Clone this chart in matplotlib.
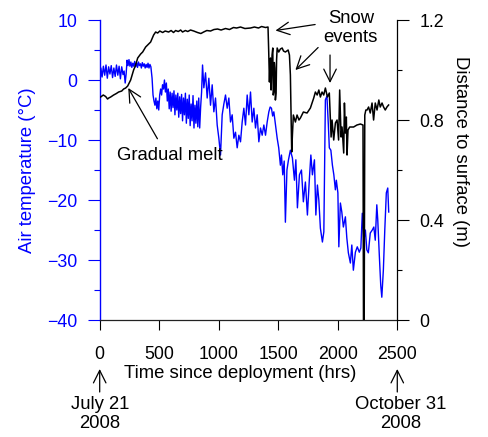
import matplotlib
matplotlib.use("Agg")
import matplotlib.pyplot as plt
from matplotlib.ticker import FixedLocator

plt.rcParams['font.family'] = ['Liberation Sans', 'DejaVu Sans']

# ---------------- data ----------------
# Air temperature (deg C) vs hours since deployment
temp_hours = [3, 10, 20, 31, 42, 53, 64, 75, 86, 97, 108, 119, 130, 141, 152, 163, 174, 185, 196, 205,
              214, 222, 230, 238, 246, 254, 262, 270, 278, 286, 294, 302, 310, 318, 326, 334, 342, 350, 358, 366,
              374, 382, 390, 398, 406, 414, 422, 430, 440, 448, 456, 464, 472, 480, 488, 496, 504, 512, 520, 528,
              536, 544, 552, 560, 568, 576, 584, 592, 600, 608, 616, 624, 632, 640, 648, 656, 664, 672, 680, 688,
              696, 704, 712, 720, 728, 736, 744, 752, 760, 768, 776, 784, 792, 800, 808, 816, 824, 832, 840, 848,
              856, 864, 875, 889, 903, 917, 931,
              945, 959, 973, 987, 1001, 1015, 1029, 1043, 1057, 1071, 1085, 1099, 1113, 1127, 1141, 1155, 1169, 1183, 1197, 1211,
              1225, 1239, 1253, 1267, 1281, 1295, 1309, 1323, 1337, 1351, 1365, 1379, 1393, 1407, 1421, 1432, 1443, 1453, 1463, 1477,
              1491, 1504, 1518, 1527, 1538, 1550, 1560, 1573, 1586, 1602, 1619, 1636, 1648, 1661, 1678, 1695, 1711, 1728, 1745, 1762,
              1774, 1787, 1804, 1816, 1829, 1841, 1854, 1871, 1883, 1896, 1909, 1921, 1929, 1942, 1955, 1967, 1980, 1988, 2001, 2009,
              2022, 2034, 2047, 2064, 2076, 2089, 2106, 2118, 2131, 2148, 2164, 2181, 2194, 2206, 2219, 2232, 2244, 2257, 2273, 2290,
              2303, 2315, 2328, 2336, 2349, 2361, 2370, 2383, 2395, 2408, 2420, 2428]
temp_values = [-0.5, 2.0, 0.5, 2.3, 0.8, 2.5, 0.3, 2.2, 1.0, 2.4, 0.4, 2.0, 0.6, 2.5, 0.8, 2.3, 0.2, 2.2, 0.9, 1.5,
               -0.5, 1.0, 3.3, 2.4, 3.4, 2.3, 3.0, 2.1, 2.8, 2.3, 3.1, 2.2, 2.9, 2.1, 3.0, 2.4, 2.7, 2.0, 2.9, 2.3,
               2.7, 2.0, 2.6, 2.1, 2.8, 2.0, 2.6, 2.2, 0.3, -2.5, -3.5, -4.2, -3.0, -4.8, -3.5, -5.0, -2.5, -1.5, -2.5, -0.8,
               -1.5, 0.0, -2.0, -0.5, -3.5, -1.5, -4.8, -2.0, -5.2, -2.2, -4.6, -1.8, -5.8, -2.5, -5.0, -2.2, -6.2, -2.8, -5.6, -2.4,
               -6.8, -3.0, -5.8, -2.2, -7.2, -3.2, -6.4, -2.5, -7.6, -4.0, -6.8, -2.6, -8.0, -4.2, -7.2, -3.5, -7.8, -3.0, -8.0, -4.5,
               -2.0, 2.5, -1.3, 1.2, -3.0, 0.3, -4.2,
               -0.8, -5.3, -3.0, -7.5, -9.7, -12.5, -5.8, -4.0, -2.5, -4.7, -3.0, -7.0, -5.8, -9.7, -8.7, -11.3, -9.2, -10.3, -7.0, -4.7,
               -7.5, -2.5, -5.8, -2.0, -7.0, -4.7, -8.0, -5.8, -10.3, -8.0, -9.2, -7.5, -9.2, -7.0, -5.3, -4.5, -4.7, -6.0, -5.3, -7.5,
               -9.7, -11.3, -14.2, -12.5, -15.8, -13.5, -23.7, -15.0, -13.3, -11.7, -13.0, -16.7, -13.3, -21.3, -15.8, -15.0, -20.3, -17.0, -22.5, -16.3,
               -12.5, -15.8, -13.3, -22.5, -17.5, -20.0, -24.7, -27.0, -25.3, -3.3, -2.7, -7.5, -11.3, -11.7, -14.2, -15.8, -18.3, -16.7, -18.8, -27.8,
               -20.5, -22.0, -24.5, -22.8, -26.3, -28.8, -30.5, -27.5, -31.7, -28.7, -27.8, -28.7, -28.0, -22.2, -26.7, -25.0, -28.3, -28.8, -25.5, -25.0,
               -24.5, -26.7, -20.8, -23.3, -29.2, -34.2, -36.2, -31.7, -25.0, -18.8, -18.0, -22.0]

# Distance to surface (m) vs hours since deployment
dist_hours = [8, 30, 50, 66, 76, 92, 117, 140, 159, 185, 201, 218, 235, 260, 285, 302, 319, 344, 361, 386,
              411, 428, 453, 470, 487, 505, 529, 550, 579, 600, 620, 638, 660, 680, 696, 720, 740, 763, 790, 822,
              850, 873, 900, 931, 960, 990, 1020, 1057, 1090, 1124, 1150, 1183, 1220, 1267, 1300, 1334, 1360, 1393, 1414, 1420,
              1426, 1431, 1435, 1440, 1443, 1448, 1454, 1458, 1462, 1467, 1471, 1476, 1482, 1486, 1491, 1504, 1518, 1533, 1544, 1560,
              1583, 1594, 1602, 1608, 1613, 1619, 1627, 1644, 1658, 1674, 1686, 1711, 1742, 1770, 1798, 1812, 1827, 1841, 1854, 1868,
              1882, 1896, 1913, 1929, 1944, 1952, 1966, 1980, 1994, 2007, 2016, 2028, 2036, 2050, 2056, 2064, 2072, 2078, 2086, 2100,
              2133, 2161, 2190, 2212, 2216, 2222, 2227, 2236, 2246, 2259, 2273, 2288, 2301, 2315, 2330, 2345, 2357, 2372, 2385, 2399,
              2413, 2427]
dist_values = [0.892, 0.900, 0.894, 0.884, 0.888, 0.892, 0.900, 0.906, 0.912, 0.916, 0.924, 0.928, 0.936, 0.960, 1.000, 1.020, 1.048, 1.064, 1.072, 1.092,
               1.104, 1.112, 1.140, 1.152, 1.148, 1.156, 1.150, 1.156, 1.152, 1.158, 1.150, 1.158, 1.154, 1.160, 1.152, 1.158, 1.154, 1.160, 1.156, 1.150,
               1.146, 1.152, 1.158, 1.156, 1.162, 1.164, 1.160, 1.166, 1.162, 1.170, 1.168, 1.172, 1.166, 1.168, 1.172, 1.168, 1.174, 1.170, 1.172, 1.072,
               0.952, 1.030, 1.048, 0.920, 0.968, 1.060, 1.088, 0.900, 0.912, 1.030, 1.008, 0.880, 0.908, 1.040, 1.088, 1.072, 1.084, 1.088, 1.076, 1.072,
               1.080, 1.060, 0.980, 0.820, 0.672, 0.740, 0.820, 0.792, 0.820, 0.800, 0.808, 0.832, 0.828, 0.848, 0.888, 0.912, 0.900, 0.920, 0.892, 0.912,
               0.900, 0.928, 0.892, 0.908, 0.732, 0.800, 0.720, 0.788, 0.800, 0.720, 0.920, 0.732, 0.772, 0.668, 0.868, 0.748, 0.812, 0.660, 0.760, 0.772,
               0.772, 0.780, 0.784, 0.780, 0.000, 0.000, 0.820, 0.840, 0.840, 0.852, 0.828, 0.868, 0.800, 0.868, 0.840, 0.880, 0.852, 0.868, 0.852, 0.840,
               0.852, 0.860]

x_ticks = [0, 500, 1000, 1500, 2000, 2500]
temp_ticks = [-40, -30, -20, -10, 0, 10]
temp_minor = [-35, -25, -15, -5, 5]
dist_ticks = [0, 0.4, 0.8, 1.2]
dist_tick_labels = ['0', '0.4', '0.8', '1.2']
dist_minor = [0.2, 0.6, 1.0]

FS = 13.3
TFS = 12.8
BLUE = '#0000ff'

fig = plt.figure(figsize=(4.88, 4.37), dpi=100)
ax1 = fig.add_axes([0.2043, 0.2677, 0.6098, 0.6865])
ax2 = ax1.twinx()

ax1.plot(temp_hours, temp_values, color=BLUE, lw=1.0)
ax2.plot(dist_hours, dist_values, color='black', lw=1.1)

ax1.set_xlim(0, 2500)
ax1.set_ylim(-40, 10)
ax2.set_ylim(0, 1.2)

ax1.set_xticks(x_ticks)
ax1.set_yticks(temp_ticks)
ax1.yaxis.set_minor_locator(FixedLocator(temp_minor))
ax2.set_yticks(dist_ticks)
ax2.set_yticklabels(dist_tick_labels)
ax2.yaxis.set_minor_locator(FixedLocator(dist_minor))

for a in (ax1, ax2):
    a.spines['top'].set_visible(False)
ax1.spines['right'].set_visible(False)
ax2.spines['left'].set_visible(False)
ax2.spines['bottom'].set_visible(False)
ax1.spines['left'].set_color(BLUE)
ax1.spines['left'].set_linewidth(1.0)
ax1.spines['bottom'].set_color('#222222')
ax1.spines['bottom'].set_linewidth(0.9)
ax2.spines['right'].set_linewidth(0.9)

ax1.tick_params(axis='x', direction='out', length=7.5, width=0.8, pad=11, labelsize=TFS)
ax1.tick_params(axis='y', which='major', direction='out', length=8.5, width=0.8,
                color=BLUE, labelcolor=BLUE, pad=7.5, labelsize=TFS)
ax1.tick_params(axis='y', which='minor', direction='out', length=4, width=0.8, color=BLUE)
ax2.tick_params(axis='y', which='major', direction='out', length=8.5, width=0.8, pad=7.5, labelsize=TFS)
ax2.tick_params(axis='y', which='minor', direction='out', length=3.5, width=0.8)

ax1.set_xlabel('Time since deployment (hrs)', fontsize=FS, labelpad=2)
ax1.xaxis.label.set_x(0.472)
fig.text(28 / 488, 1 - 170 / 437, 'Air temperature (°C)', rotation=90, color=BLUE,
         fontsize=FS, ha='center', va='center')
fig.text(461 / 488, 1 - 152 / 437, 'Distance to surface (m)', rotation=270,
         fontsize=FS, ha='center', va='center')

arrow_kw = dict(arrowstyle='->,head_length=0.5,head_width=0.25', color='black', lw=0.9,
                mutation_scale=18, shrinkA=0, shrinkB=0)

# Gradual melt
ax2.text(590, 0.66, 'Gradual melt', fontsize=FS, ha='center', va='center')
ax2.annotate('', xy=(240, 0.928), xytext=(485, 0.725), arrowprops=arrow_kw)

# Snow events
ax2.text(2110, 1.169, 'Snow\nevents', fontsize=FS, ha='center', va='center', linespacing=1.12)
ax2.annotate('', xy=(1477, 1.158), xytext=(1810, 1.182), arrowprops=arrow_kw)
ax2.annotate('', xy=(1644, 1.0), xytext=(1835, 1.09), arrowprops=arrow_kw)
ax2.annotate('', xy=(1935, 0.948), xytext=(1935, 1.06), arrowprops=arrow_kw)

# Date markers below the axis
for xd in (0, 2500):
    ax1.annotate('', xy=(xd, 1 - 369 / 437), xytext=(xd, 1 - 392 / 437),
                 xycoords=('data', 'figure fraction'), textcoords=('data', 'figure fraction'),
                 arrowprops=arrow_kw, annotation_clip=False)
ax1.annotate('July 21\n2008', xy=(0, 1 - 414 / 437), xycoords=('data', 'figure fraction'),
             ha='center', va='center', fontsize=FS, linespacing=1.1, annotation_clip=False)
ax1.annotate('October 31\n2008', xy=(2527, 1 - 414 / 437), xycoords=('data', 'figure fraction'),
             ha='center', va='center', fontsize=FS, linespacing=1.1, annotation_clip=False)

fig.savefig('out.png', dpi=100)
